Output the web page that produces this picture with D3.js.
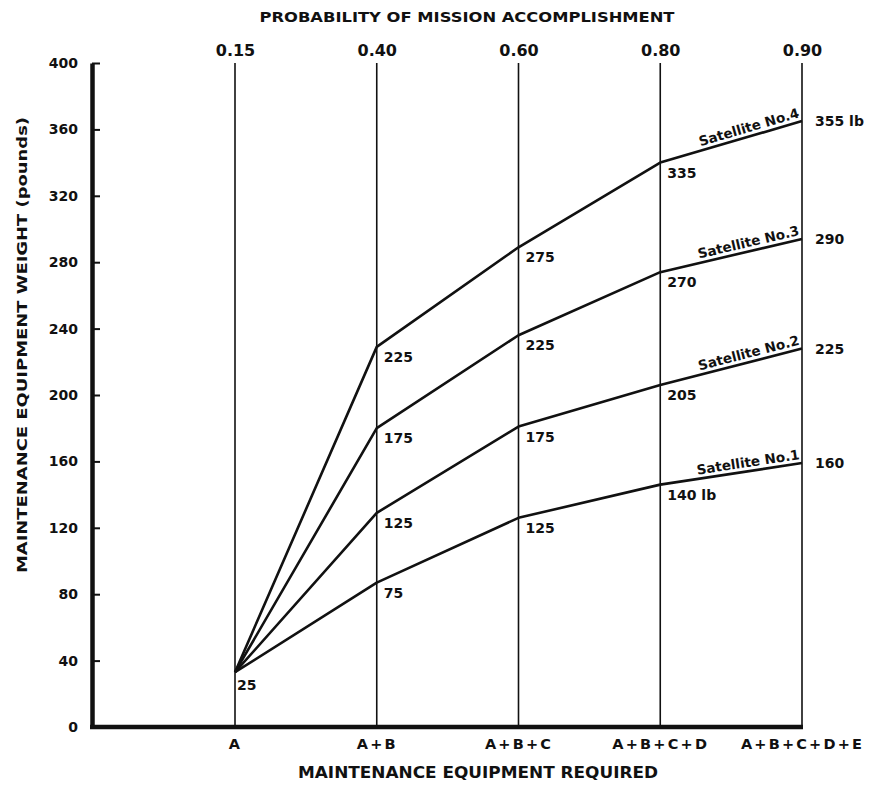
<!doctype html>
<html lang="en">
   <head>
      <meta charset="utf-8">
      <title>Maintenance Equipment Weight</title>
      <style>
         body { margin: 0; background: #fff; }
         text {
         font-family: "DejaVu Sans", Lato, sans-serif;
         font-weight: bold;
         fill: #111;
         }
         .grid line { stroke: #111; stroke-width: 1.6px; }
         .series { fill: none; stroke: #111; stroke-width: 2.6px; stroke-linejoin: round; }
      </style>
   </head>
   <body>
      <svg style="width:870px;height:792px;"></svg>
      <script src="https://cdn.jsdelivr.net/npm/d3@7"></script>
      <script>
         // categories along the bottom, probabilities along the top
         var equipment = ["A", "A+B", "A+B+C", "A+B+C+D", "A+B+C+D+E"];
         var probability = ["0.15", "0.40", "0.60", "0.80", "0.90"];
         var yTicks = [0, 40, 80, 120, 160, 200, 240, 280, 320, 360, 400];

         // plotted weights (as drawn) and printed labels per satellite
         var sat1 = [33, 87, 126, 146, 159];
         var sat2 = [33, 129, 181, 206, 228];
         var sat3 = [33, 180, 236, 274, 294];
         var sat4 = [33, 229, 289, 340, 365];
         var sat1Labels = ["25", "75", "125", "140 lb", "160"];
         var sat2Labels = [null, "125", "175", "205", "225"];
         var sat3Labels = [null, "175", "225", "270", "290"];
         var sat4Labels = [null, "225", "275", "335", "355 lb"];
         var satNames = ["Satellite No.1", "Satellite No.2", "Satellite No.3", "Satellite No.4"];

         var series = [sat1, sat2, sat3, sat4].map((v, i) => ({
           name: satNames[i],
           values: v,
           labels: [sat1Labels, sat2Labels, sat3Labels, sat4Labels][i]
         }));

         var svg = d3.select("svg");
         var x = d3.scalePoint().domain(equipment).range([ 235, 802 ]);
         var y = d3.scaleLinear().domain([ 0, 400 ]).range([ 727, 63 ]);
         var xLeft = 92;

         // vertical lines at each equipment set
         svg.append("g").attr("class", "grid")
           .selectAll("line")
           .data(equipment)
           .enter().append("line")
             .attr("x1", d => x(d)).attr("x2", d => x(d))
             .attr("y1", y(400)).attr("y2", y(0));

         // top axis: probability of mission accomplishment
         var topAxis = svg.append("g")
           .attr("transform", "translate(0," + y(400) + ")")
           .call(d3.axisTop(x).tickSize(0).tickPadding(7).tickFormat((d, i) => probability[i]));
         topAxis.select(".domain").remove();
         topAxis.selectAll("text").style("font-size", "16px");

         // left axis
         var leftAxis = svg.append("g")
           .attr("transform", "translate(" + xLeft + ",0)")
           .call(d3.axisLeft(y).tickValues(yTicks).tickSizeInner(-8).tickSizeOuter(0).tickPadding(14));
         leftAxis.select(".domain").attr("stroke", "#111").attr("stroke-width", 4.5);
         leftAxis.selectAll(".tick line").attr("stroke", "#111").attr("stroke-width", 2);
         leftAxis.selectAll("text").style("font-size", "14px");

         // bottom axis
         svg.append("line")
           .attr("x1", xLeft - 2).attr("x2", x("A+B+C+D+E") + 1)
           .attr("y1", y(0)).attr("y2", y(0))
           .attr("stroke", "#111").attr("stroke-width", 4.5);
         var bottomAxis = svg.append("g")
           .attr("transform", "translate(0," + y(0) + ")")
           .call(d3.axisBottom(x).tickSize(0).tickPadding(12));
         bottomAxis.select(".domain").remove();
         bottomAxis.selectAll("text")
           .style("font-size", "14.5px")
           .style("letter-spacing", "2.2px");

         // series lines
         var line = d3.line()
           .x((d, i) => x(equipment[i]))
           .y(d => y(d));
         svg.selectAll("path.series")
           .data(series)
           .enter().append("path")
             .attr("class", "series")
             .attr("d", d => line(d.values));

         // value labels
         series.forEach(s => {
           s.values.forEach((v, i) => {
             var lab = s.labels[i];
             if (!lab) return;
             var px = x(equipment[i]), py = y(v);
             var t = svg.append("text").style("font-size", "14px").text(lab);
             if (i === 0) {
               t.attr("x", px + 2).attr("y", py + 18);
             } else if (i === equipment.length - 1) {
               t.attr("x", px + 13).attr("y", py + 5);
             } else {
               t.attr("x", px + 7).attr("y", py + 15);
             }
           });

           // satellite name along the last segment
           var xd = x(equipment[3]), yd = y(s.values[3]);
           var xe = x(equipment[4]), ye = y(s.values[4]);
           var ang = Math.atan2(ye - yd, xe - xd) * 180 / Math.PI;
           svg.append("text")
             .attr("transform", "translate(" + (xe - 2) + "," + (ye - 4) + ") rotate(" + ang + ")")
             .attr("text-anchor", "end")
             .style("font-size", "13.5px")
             .text(s.name);
         });

         // titles
         svg.append("text")
           .attr("x", 467).attr("y", 22)
           .attr("text-anchor", "middle")
           .attr("textLength", 415).attr("lengthAdjust", "spacingAndGlyphs")
           .style("font-size", "14px")
           .text("PROBABILITY OF MISSION ACCOMPLISHMENT");
         svg.append("text")
           .attr("x", 478).attr("y", 778)
           .attr("text-anchor", "middle")
           .attr("textLength", 360).attr("lengthAdjust", "spacingAndGlyphs")
           .style("font-size", "15px")
           .text("MAINTENANCE  EQUIPMENT REQUIRED");
         svg.append("text")
           .attr("transform", "translate(27,345) rotate(-90)")
           .attr("text-anchor", "middle")
           .attr("textLength", 456).attr("lengthAdjust", "spacingAndGlyphs")
           .style("font-size", "14px")
           .text("MAINTENANCE EQUIPMENT WEIGHT (pounds)");
      </script>
   </body>
</html>
